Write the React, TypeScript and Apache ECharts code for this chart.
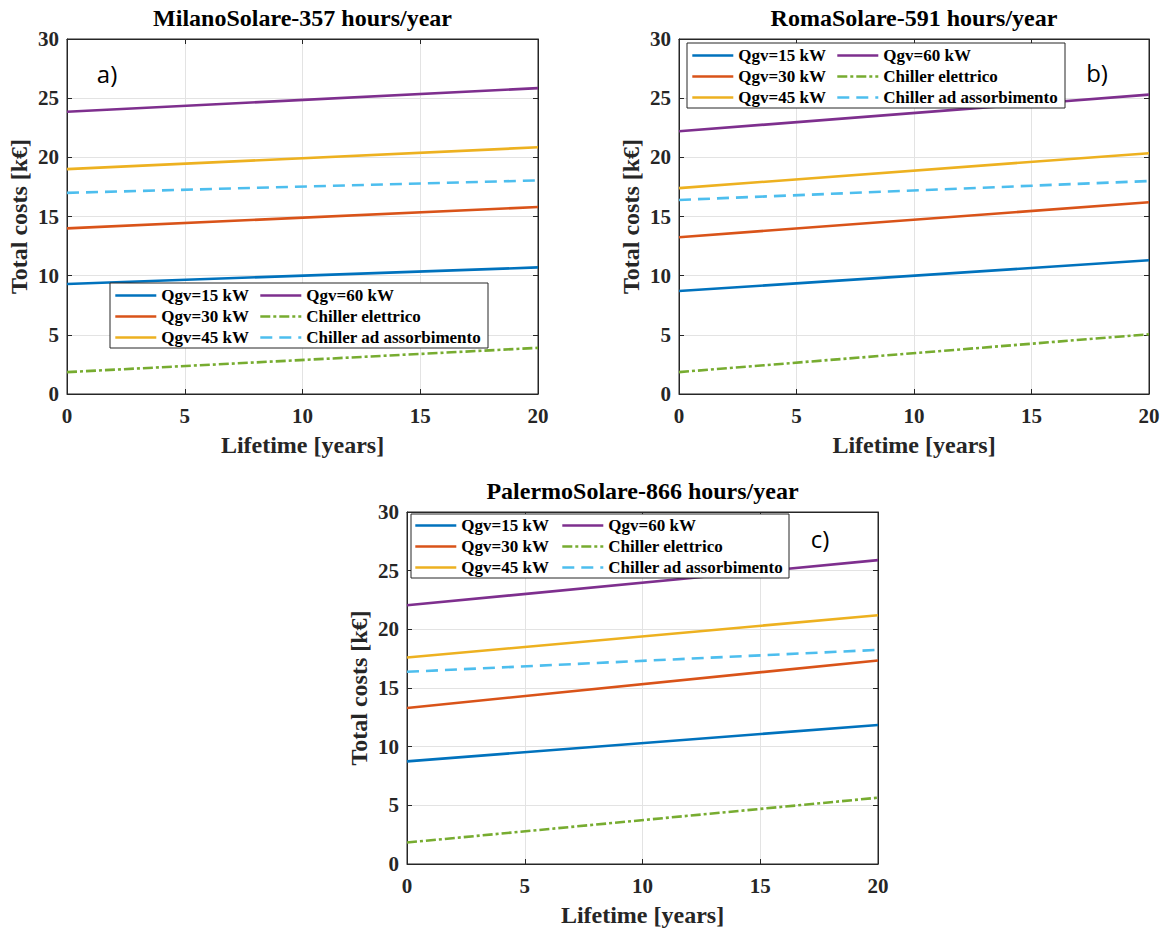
import React, { useEffect, useRef } from 'react';
import * as echarts from 'echarts';

// ---- data ----
const years = [0, 20];
const seriesNames = ['Qgv=15 kW', 'Qgv=30 kW', 'Qgv=45 kW', 'Qgv=60 kW', 'Chiller elettrico', 'Chiller ad assorbimento'];
const panelTitles = ['MilanoSolare-357 hours/year', 'RomaSolare-591 hours/year', 'PalermoSolare-866 hours/year'];
const panelLetters = ['a)', 'b)', 'c)'];
const xTicks = { min: 0, max: 20, step: 5 };
const yTicks = { min: 0, max: 30, step: 5 };
// values at year 0 and year 20, in seriesNames order
const milano = [[9.3, 10.7], [14.0, 15.8], [19.0, 20.85], [23.85, 25.85], [1.85, 3.9], [17.0, 18.05]];
const roma = [[8.7, 11.3], [13.25, 16.2], [17.4, 20.35], [22.2, 25.3], [1.85, 5.05], [16.4, 18.0]];
const palermo = [[8.75, 11.85], [13.3, 17.35], [17.6, 21.2], [22.05, 25.9], [1.83, 5.65], [16.38, 18.25]];
const panelData = [milano, roma, palermo];

// ---- styles ----
const colors = ['#0072BD', '#D95319', '#EDB120', '#7E2F8E', '#77AC30', '#4DBEEE'];
const lineTypes: any[] = ['solid', 'solid', 'solid', 'solid', [10, 3, 3, 3], [12, 7]];
const serif = '"Liberation Serif", "Times New Roman", serif';
const axisColor = '#262626';
const grids = [
  { left: 67, top: 39, width: 471, height: 355 },
  { left: 679, top: 39, width: 470, height: 355 },
  { left: 407, top: 512, width: 471, height: 355 },
];
const legendBoxes = [
  { x: 110, y: 283, w: 378, h: 65, col1: 114, col2: 259, row: 287 },
  { x: 687, y: 43, w: 378, h: 65, col1: 691, col2: 836, row: 47 },
  { x: 411, y: 514, w: 378, h: 64, col1: 414, col2: 561, row: 517 },
];
const letterPos = [
  { x: 107, y: 73 },
  { x: 1097, y: 72 },
  { x: 820, y: 538 },
];

function buildOption() {
  const grid: any[] = [];
  const xAxis: any[] = [];
  const yAxis: any[] = [];
  const series: any[] = [];
  const legend: any[] = [];
  const title: any[] = [];
  const graphic: any[] = [];

  grids.forEach((g, i) => {
    grid.push({ ...g, show: true, borderColor: axisColor, borderWidth: 1, containLabel: false });
    const tick = { show: true, inside: true, length: 5, lineStyle: { color: axisColor } };
    const label = { fontFamily: serif, fontWeight: 'bold', fontSize: 21, color: axisColor };
    const nameStyle = { fontFamily: serif, fontWeight: 'bold', fontSize: 24, color: axisColor };
    xAxis.push({
      type: 'value', gridIndex: i, min: xTicks.min, max: xTicks.max, interval: xTicks.step,
      axisLine: { show: true, onZero: false, lineStyle: { color: axisColor } },
      axisTick: tick,
      axisLabel: { ...label, margin: 11 },
      splitLine: { show: true, lineStyle: { color: '#e3e3e3', width: 1 } },
      name: 'Lifetime [years]', nameLocation: 'middle', nameGap: 39,
      nameTextStyle: nameStyle,
    });
    xAxis.push({
      type: 'value', gridIndex: i, position: 'top', min: xTicks.min, max: xTicks.max, interval: xTicks.step,
      axisLine: { show: true, onZero: false, lineStyle: { color: axisColor } },
      axisTick: tick, axisLabel: { show: false }, splitLine: { show: false },
    });
    yAxis.push({
      type: 'value', gridIndex: i, min: yTicks.min, max: yTicks.max, interval: yTicks.step,
      axisLine: { show: true, onZero: false, lineStyle: { color: axisColor } },
      axisTick: tick,
      axisLabel: { ...label, margin: 8 },
      splitLine: { show: true, lineStyle: { color: '#e3e3e3', width: 1 } },
      name: 'Total costs [k€]', nameLocation: 'middle', nameGap: 36,
      nameTextStyle: nameStyle,
    });
    yAxis.push({
      type: 'value', gridIndex: i, position: 'right', min: yTicks.min, max: yTicks.max, interval: yTicks.step,
      axisLine: { show: true, onZero: false, lineStyle: { color: axisColor } },
      axisTick: tick, axisLabel: { show: false }, splitLine: { show: false },
    });

    title.push({
      text: panelTitles[i], left: g.left + g.width / 2, top: g.top - 33, textAlign: 'center',
      padding: 0,
      textStyle: { fontFamily: serif, fontWeight: 'bold', fontSize: 24, color: '#000' },
    });

    panelData[i].forEach((vals, s) => {
      series.push({
        name: seriesNames[s], type: 'line', xAxisIndex: i * 2, yAxisIndex: i * 2,
        data: years.map((yr, k) => [yr, vals[k]]),
        symbol: 'none', silent: true,
        lineStyle: { color: colors[s], width: 2.6, type: lineTypes[s] },
        itemStyle: { color: colors[s] },
        z: 2,
      });
    });

    const lb = legendBoxes[i];
    const legendCommon = {
      orient: 'vertical', itemWidth: 41, itemHeight: 16, itemGap: 4, padding: 0,
      selectedMode: false, z: 20,
      itemStyle: { opacity: 0 },
      lineStyle: { width: 2.6 },
      textStyle: { fontFamily: serif, fontWeight: 'bold', fontSize: 17, color: '#000' },
    };
    legend.push({ ...legendCommon, left: lb.col1, top: lb.row, data: seriesNames.slice(0, 3) });
    legend.push({ ...legendCommon, left: lb.col2, top: lb.row, data: seriesNames.slice(3) });
    graphic.push({
      type: 'rect', shape: { x: lb.x, y: lb.y, width: lb.w, height: lb.h },
      style: { fill: '#fff', stroke: '#262626', lineWidth: 1 }, z: 5,
    });
    graphic.push({
      type: 'text', x: letterPos[i].x, y: letterPos[i].y,
      style: { text: panelLetters[i], fontFamily: '"Open Sans", "Liberation Sans", sans-serif', fontSize: 24, fill: '#000', align: 'center', verticalAlign: 'middle' },
      z: 5,
    });
  });

  return { animation: false, backgroundColor: '#fff', title, grid, xAxis, yAxis, series, legend, graphic };
}

export default function App() {
  const ref = useRef<HTMLDivElement>(null);
  useEffect(() => {
    if (!ref.current) return;
    const chart = echarts.init(ref.current, undefined, { renderer: 'svg' });
    chart.setOption(buildOption() as any);
    return () => chart.dispose();
  }, []);
  return <div ref={ref} style={{ position: 'absolute', left: 0, top: 0, width: 1167, height: 928 }} />;
}
